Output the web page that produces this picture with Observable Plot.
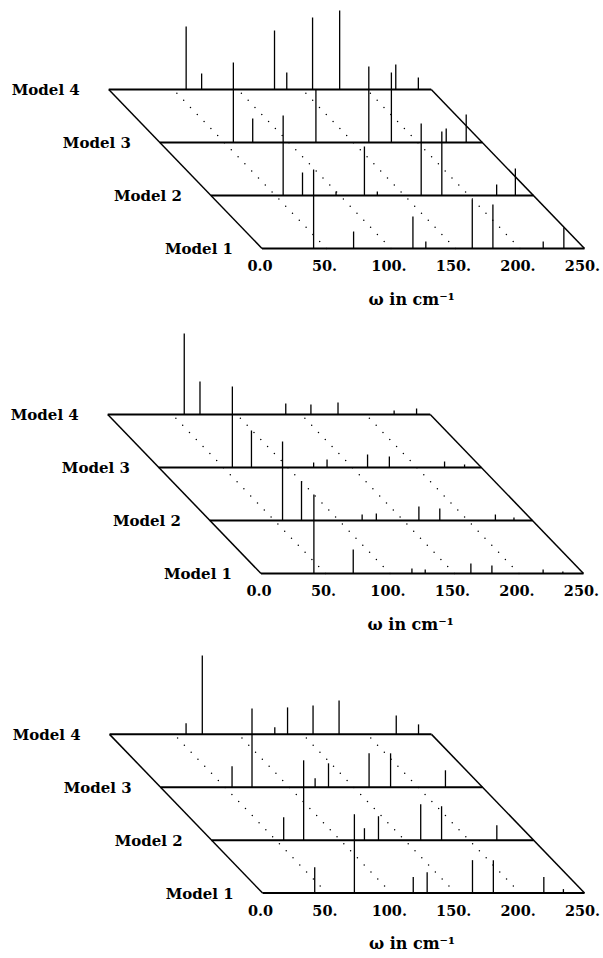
<!DOCTYPE html>
<html>
<head>
<meta charset="utf-8">
<script src="https://cdn.jsdelivr.net/npm/d3@7"></script>
<script src="https://cdn.jsdelivr.net/npm/@observablehq/plot@0.6"></script>
<style>
  html, body { margin: 0; padding: 0; background: #fff; }
  #wrap { position: relative; width: 603px; height: 958px; overflow: hidden; }
  .panel { position: absolute; left: 0; }
</style>
</head>
<body>
<div id="wrap"></div>
<script>
// ---------- data (ω in cm^-1, relative intensity) ----------
const models = ["Model 1", "Model 2", "Model 3", "Model 4"];
const tickValues = [0, 50, 100, 150, 200, 250];
const tickLabels = ["0.0", "50.", "100.", "150.", "200.", "250."];
const gridValues = [50, 100, 150, 200];
const axisTitle = "ω in cm⁻¹";

// Panel 1
const p1Model1 = [[40, 79], [71, 17], [117, 32], [127, 7], [163, 49], [179, 44], [218, 7], [234, 21]];
const p1Model2 = [[56, 80], [71, 23], [97, 4], [119, 49], [129, 4], [163, 72], [179, 64], [221.5, 11], [236, 27]];
const p1Model3 = [[57, 80], [72, 24], [121, 53], [162, 76], [179.5, 70], [222, 14], [237.5, 28]];
const p1Model4 = [[60, 63], [72, 16], [128.5, 59], [138, 17], [158, 72], [179, 79], [222.5, 25], [240, 12]];

// Panel 2
const p2Model1 = [[41, 79], [71.5, 24], [117, 5], [127.3, 4], [162.7, 10], [179, 8], [218.7, 4], [234, 2]];
const p2Model2 = [[56.3, 79], [71, 39], [118, 6], [129, 7], [162, 14], [178.2, 12], [221.3, 6], [235.7, 3]];
const p2Model3 = [[57, 81], [71.8, 37], [120, 5], [130.4, 8], [161.8, 13], [178.7, 11], [221.5, 6], [237, 3]];
const p2Model4 = [[59.3, 81], [71.5, 33], [138, 11], [157.5, 10], [178.5, 12], [222, 4], [239.4, 6]];

// Panel 3
const p3Model1 = [[40.5, 26], [71.3, 79], [117, 16], [127.8, 21], [163, 33], [179.2, 33], [218.4, 16], [233.6, 4]];
const p3Model2 = [[56, 23], [71.5, 80], [118.7, 12], [129.6, 24], [162.4, 36], [178.6, 34], [221.5, 15]];
const p3Model3 = [[55.5, 21], [71, 79], [120, 9], [130.4, 24], [161.9, 34], [178.6, 34], [221.2, 17]];
const p3Model4 = [[59.4, 11], [72, 79], [128.3, 7], [138.2, 27], [158, 29], [178.2, 34], [222.6, 19], [239.9, 10]];

const panels = [
  [p1Model1, p1Model2, p1Model3, p1Model4],
  [p2Model1, p2Model2, p2Model3, p2Model4],
  [p3Model1, p3Model2, p3Model3, p3Model4]
];

// ---------- layout ----------
const panelTop = [3.3, 327.7, 648.3];
const panelLeft = [0, -1.5, 1];
const shift = 39.6;   // oblique shift per model, in ω units
const depth = 53;     // vertical offset per model, in intensity units
const font = "'DejaVu Serif', serif";

const X = (w, m) => w - m * shift;
const Y = m => m * depth;

function makePanel(series) {
  const sticks = [];
  series.forEach((arr, m) => arr.forEach(([w, I]) => sticks.push({m, w, I})));
  const idx = models.map((d, i) => i);
  return Plot.plot({
    width: 603,
    height: 310,
    margin: 0,
    x: {domain: [0, 250], range: [261.5, 584], axis: null},
    y: {domain: [0, 245], range: [245, 0], axis: null},
    style: {background: "transparent", overflow: "visible"},
    marks: [
      // dotted diagonal grid lines
      Plot.link(gridValues, {
        x1: d => X(d, 0), y1: () => Y(0), x2: d => X(d, 3), y2: () => Y(3),
        stroke: "black", strokeWidth: 1.5, strokeDasharray: "0,9.8", strokeLinecap: "round"
      }),
      // oblique edges at ω = 0 and 250
      Plot.link([tickValues[0], tickValues[tickValues.length - 1]], {
        x1: d => X(d, 0), y1: () => Y(0), x2: d => X(d, 3), y2: () => Y(3),
        stroke: "black", strokeWidth: 1.5
      }),
      // sticks
      Plot.link(sticks, {
        x1: d => X(d.w, d.m), x2: d => X(d.w, d.m),
        y1: d => Y(d.m), y2: d => Y(d.m) + d.I,
        stroke: "black", strokeWidth: 1.3
      }),
      // baselines
      Plot.link(idx, {
        x1: m => X(0, m), x2: m => X(250, m), y1: m => Y(m), y2: m => Y(m),
        stroke: "black", strokeWidth: 2
      }),
      // model labels
      Plot.text(idx, {
        x: m => X(0, m), y: m => Y(m), text: m => models[m],
        textAnchor: "end", dx: -29, dy: 1, fontSize: 15, fontWeight: "bold", fontFamily: font, fill: "black"
      }),
      // tick labels
      Plot.text(tickValues, {
        x: d => d, y: () => 0, text: (d, i) => tickLabels[i],
        dy: 18, dx: -2, fontSize: 14.5, fontWeight: "bold", fontFamily: font, fill: "black"
      }),
      // axis title
      Plot.text([axisTitle], {
        x: () => 116, y: () => 0, text: d => d,
        dy: 51, fontSize: 16, fontWeight: "bold", fontFamily: font, fill: "black"
      })
    ]
  });
}

const wrap = document.getElementById("wrap");
panels.forEach((series, k) => {
  const div = document.createElement("div");
  div.className = "panel";
  div.style.top = panelTop[k] + "px";
  div.style.left = panelLeft[k] + "px";
  div.appendChild(makePanel(series));
  wrap.appendChild(div);
});
</script>
</body>
</html>
